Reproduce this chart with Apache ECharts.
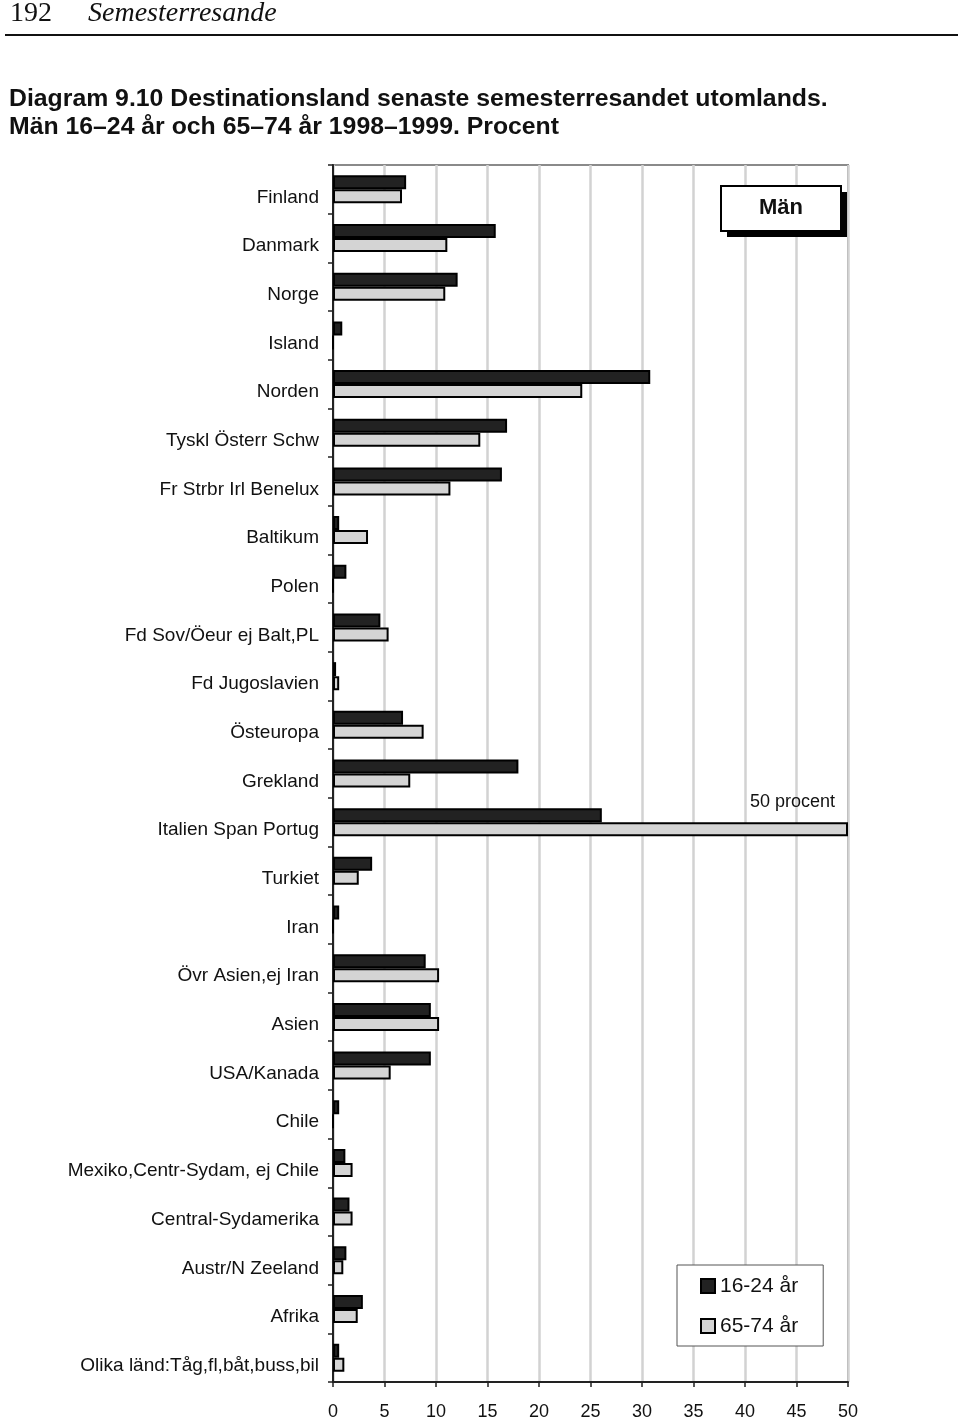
<!DOCTYPE html>
<html><head><meta charset="utf-8">
<script src="https://cdn.jsdelivr.net/npm/echarts@6/dist/echarts.min.js"></script>
<style>html,body{margin:0;padding:0;background:#fff}#c{width:960px;height:1421px}</style>
</head><body><div id="c"></div>
<script>
const categories = ["Finland","Danmark","Norge","Island","Norden","Tyskl Österr Schw","Fr Strbr Irl Benelux","Baltikum","Polen","Fd Sov/Öeur ej Balt,PL","Fd Jugoslavien","Östeuropa","Grekland","Italien Span Portug","Turkiet","Iran","Övr Asien,ej Iran","Asien","USA/Kanada","Chile","Mexiko,Centr-Sydam, ej Chile","Central-Sydamerika","Austr/N Zeeland","Afrika","Olika länd:Tåg,fl,båt,buss,bil"];
const young = [7.1,15.8,12.1,0.9,30.8,16.9,16.4,0.6,1.3,4.6,0.3,6.8,18.0,26.1,3.8,0.6,9.0,9.5,9.5,0.6,1.2,1.6,1.3,2.9,0.6];
const old = [6.7,11.1,10.9,0,24.2,14.3,11.4,3.4,0,5.4,0.6,8.8,7.5,50,2.5,0,10.3,10.3,5.6,0,1.9,1.9,1.0,2.4,1.1];
const seriesNames = ["16-24 år","65-74 år"];
const xTicks = {min:0,max:50,interval:5};

const chart = echarts.init(document.getElementById('c'));
const font = '"Liberation Sans", Arial, sans-serif';
chart.setOption({
  animation:false,
  backgroundColor:'#fff',
  textStyle:{fontFamily:font},
  grid:{left:333,top:165,width:515,height:1218,show:true,borderColor:'#8a8a8a',borderWidth:2,containLabel:false},
  xAxis:{type:'value',min:xTicks.min,max:xTicks.max,interval:xTicks.interval,
    axisLine:{show:true,lineStyle:{color:'#222',width:2}},
    axisTick:{show:true,length:5,lineStyle:{color:'#222',width:1.5}},
    axisLabel:{fontSize:18,color:'#111',margin:21,fontFamily:font},
    splitLine:{show:true,lineStyle:{color:'#d2d2d2',width:2.5}}},
  yAxis:{type:'category',inverse:true,data:categories,
    axisLine:{show:true,lineStyle:{color:'#222',width:2}},
    axisTick:{show:true,length:5,lineStyle:{color:'#222',width:1.5}},
    axisLabel:{fontSize:19,color:'#111',margin:14,verticalAlign:'top',lineHeight:16,fontFamily:font},
    splitLine:{show:false}},
  legend:{orient:'vertical',left:677,top:1265,padding:[9,25,8,23],itemGap:16,itemWidth:14,itemHeight:14,
    backgroundColor:'#fff',borderColor:'#555',borderWidth:1,icon:'rect',
    textStyle:{fontSize:21,color:'#111',lineHeight:24,fontFamily:font},
    data:seriesNames},
  series:[
    {name:seriesNames[0],type:'bar',data:young,barWidth:14,barGap:'0%',
      itemStyle:{color:'#222',borderColor:'#000',borderWidth:2}},
    {name:seriesNames[1],type:'bar',data:old,barWidth:14,barGap:'0%',
      itemStyle:{color:'#d4d4d4',borderColor:'#000',borderWidth:2}}
  ],
  graphic:[
    {type:'text',x:10,y:14,style:{text:'192',font:'28px "Liberation Serif", serif',fill:'#111',verticalAlign:'middle'}},
    {type:'text',x:88,y:14,style:{text:'Semesterresande',font:'italic 28px "Liberation Serif", serif',fill:'#111',verticalAlign:'middle'}},
    {type:'line',shape:{x1:5,y1:35,x2:958,y2:35},style:{stroke:'#111',lineWidth:2}},
    {type:'text',x:9,y:99,style:{text:'Diagram 9.10 Destinationsland senaste semesterresandet utomlands.',font:'bold 24.8px "Liberation Sans", Arial, sans-serif',fill:'#111',verticalAlign:'middle'}},
    {type:'text',x:9,y:127,style:{text:'Män 16–24 år och 65–74 år 1998–1999. Procent',font:'bold 24.8px "Liberation Sans", Arial, sans-serif',fill:'#111',verticalAlign:'middle'}},
    {type:'rect',shape:{x:727,y:192,width:120,height:45},style:{fill:'#000'},z:100},
    {type:'rect',shape:{x:721,y:186,width:120,height:45},style:{fill:'#fff',stroke:'#000',lineWidth:2},z:101},
    {type:'text',x:781,y:208,style:{text:'Män',font:'bold 22px "Liberation Sans", Arial, sans-serif',fill:'#111',align:'center',verticalAlign:'middle'},z:102},
    {type:'text',x:835,y:802,style:{text:'50 procent',font:'18px "Liberation Sans", Arial, sans-serif',fill:'#111',align:'right',verticalAlign:'middle'},z:102}
  ]
});
</script></body></html>
